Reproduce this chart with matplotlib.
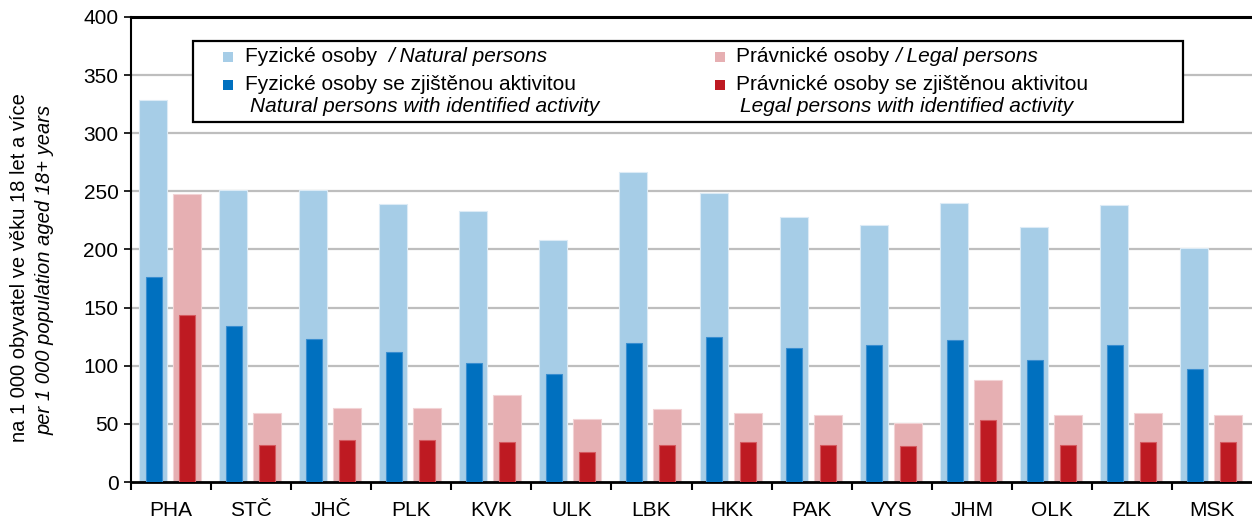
import numpy as np
import matplotlib.pyplot as plt
from matplotlib.patches import Rectangle

plt.rcParams['font.family'] = ['Liberation Sans', 'DejaVu Sans']

regions = ['PHA', 'STČ', 'JHČ', 'PLK', 'KVK', 'ULK', 'LBK', 'HKK', 'PAK', 'VYS', 'JHM', 'OLK', 'ZLK', 'MSK']
natural = [329, 251, 251, 239, 233, 208, 267, 249, 228, 221, 240, 219, 238, 201]
natural_active = [176, 134, 123, 112, 102, 93, 120, 125, 115, 118, 122, 105, 118, 97]
legal = [248, 59, 64, 64, 75, 54, 63, 59, 58, 51, 88, 58, 59, 58]
legal_active = [144, 32, 36, 36, 34, 26, 32, 34, 32, 31, 53, 32, 34, 34]

c_nat = '#A6CDE7'
c_nat_act = '#0070BF'
c_leg = '#E6AFB2'
c_leg_act = '#BE1A22'

fig = plt.figure(figsize=(12.52, 5.18), dpi=100)
ax = fig.add_axes([131 / 1252, 1 - 482 / 518, 1121 / 1252, 465 / 518])

x = np.arange(len(regions))
ax.bar(x - 0.225, natural, width=0.35, color=c_nat, edgecolor='#DCEBF6', linewidth=0.8, zorder=2)
ax.bar(x - 0.215, natural_active, width=0.2, color=c_nat_act, edgecolor='#3A8ED0', linewidth=0.8, zorder=3)
ax.bar(x + 0.2, legal, width=0.35, color=c_leg, edgecolor='#F2D3D5', linewidth=0.8, zorder=2)
ax.bar(x + 0.2, legal_active, width=0.2, color=c_leg_act, edgecolor='#D45A60', linewidth=0.8, zorder=3)

ax.set_xlim(-0.5, len(regions) - 0.5)
ax.set_ylim(0, 400)
ax.set_yticks(np.arange(0, 401, 50))
for y in np.arange(50, 400, 50):
    ax.axhline(y, color='#BEBEBE', lw=1.6, zorder=1)
ax.axhline(400, color='black', lw=2.2, zorder=1, clip_on=False)

ax.set_xticks(x)
ax.set_xticklabels(regions)
ax.set_xticks(np.arange(-0.5, len(regions) - 0.5, 1), minor=True)
ax.tick_params(axis='x', which='major', length=0, pad=14, labelsize=15)
ax.tick_params(axis='x', which='minor', length=6, width=1.5, direction='out')
ax.tick_params(axis='y', length=5, width=1.2, labelsize=15, pad=4)

ax.spines['top'].set_visible(False)
ax.spines['right'].set_visible(False)
ax.spines['left'].set_linewidth(1.5)
ax.spines['bottom'].set_linewidth(2)

# y label, two lines
fig.text(20 / 1252, 1 - 268 / 518, 'na 1 000 obyvatel ve věku 18 let a více',
         rotation=90, ha='center', va='center', fontsize=14.5)
fig.text(45 / 1252, 1 - 270 / 518, 'per 1 000 population aged 18+ years',
         rotation=90, ha='center', va='center', fontsize=14.5, style='italic')

# legend box drawn by hand
def fx(px):
    return px / 1252

def fy(py):
    return 1 - py / 518

fig.patches.append(Rectangle((fx(193), fy(122)), fx(1183) - fx(193), fy(41) - fy(122),
                             transform=fig.transFigure, facecolor='white',
                             edgecolor='black', lw=1.6, zorder=5))

legend_fs = 15
rows = [
    (228, 57, c_nat, 245, 'Fyzické osoby  ', '/ Natural persons'),
    (228, 85, c_nat_act, 245, 'Fyzické osoby se zjištěnou aktivitou', None),
    (720, 57, c_leg, 736, 'Právnické osoby ', '/ Legal persons'),
    (720, 85, c_leg_act, 736, 'Právnické osoby se zjištěnou aktivitou', None),
]
for mx, my, col, tx, t1, t2 in rows:
    fig.patches.append(Rectangle((fx(mx - 5), fy(my + 5)), fx(10), 10 / 518,
                                 transform=fig.transFigure, facecolor=col,
                                 edgecolor='none', zorder=6))
    t = fig.text(fx(tx), fy(my), t1, ha='left', va='center', fontsize=legend_fs, zorder=7)
    if t2:
        fig.canvas.draw()
        bb = t.get_window_extent()
        fig.text(bb.x1 / fig.dpi / fig.get_figwidth(), fy(my), t2, ha='left', va='center',
                 fontsize=legend_fs, style='italic', zorder=7)

fig.text(fx(250), fy(107), 'Natural persons with identified activity', ha='left', va='center',
         fontsize=legend_fs, style='italic', zorder=7)
fig.text(fx(740), fy(107), 'Legal persons with identified activity', ha='left', va='center',
         fontsize=legend_fs, style='italic', zorder=7)

fig.savefig('out.png', dpi=100)
